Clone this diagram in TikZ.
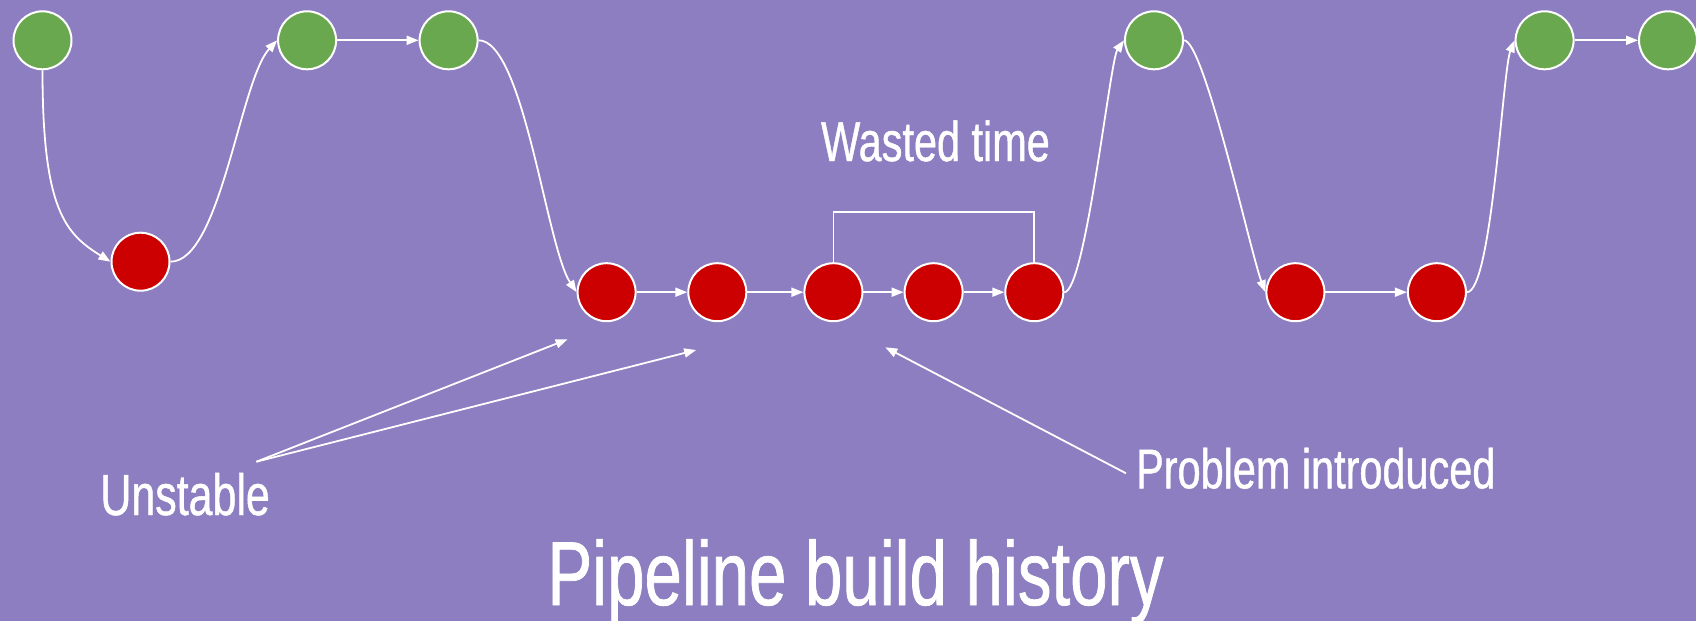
\documentclass[tikz,border=0pt]{standalone}
\usepackage{fontspec}
\usetikzlibrary{arrows.meta}
\newfontfamily\oswf[FakeStretch=0.74,FakeBold=0.8]{Liberation Sans}
\definecolor{bgc}{RGB}{140,126,192}
\definecolor{okc}{RGB}{106,168,79}
\definecolor{failc}{RGB}{204,0,0}
\tikzset{
  build/.style={circle,draw=white,line width=1pt,minimum size=29pt,inner sep=0pt},
  okb/.style={build,fill=okc},
  failb/.style={build,fill=failc},
  link/.style={draw=white,line width=0.9pt,-{Triangle[length=6pt,width=4.5pt]}},
  plainlink/.style={draw=white,line width=0.9pt},
  lbl/.style={text=white,inner sep=0pt,anchor=base west,font=\oswf\fontsize{28pt}{30pt}\selectfont},
}
\begin{document}
\begin{tikzpicture}[x=0.5pt,y=-0.5pt]
\fill[bgc] (0,0) rectangle (1696,621);
\useasboundingbox (0,0) rectangle (1696,621);
% builds
\node[okb] (g1) at (42.5,40.3) {};
\node[failb] (r1) at (140.5,261.7) {};
\node[okb] (g2) at (307.1,40.3) {};
\node[okb] (g3) at (448.6,40.3) {};
\node[failb] (r2) at (606.6,292.2) {};
\node[failb] (r3) at (717.3,292.2) {};
\node[failb] (r4) at (833.4,292.2) {};
\node[failb] (r5) at (933.6,292.2) {};
\node[failb] (r6) at (1034.3,292.2) {};
\node[okb] (g4) at (1154,40.3) {};
\node[failb] (r7) at (1295.4,292.2) {};
\node[failb] (r8) at (1436.9,292.2) {};
\node[okb] (g5) at (1544.6,40.3) {};
\node[okb] (g6) at (1668,40.3) {};
% connectors
\draw[link] (g1.south) .. controls +(0,140) and +(-45,-28) .. (r1.west);
\draw[link] (r1.east) .. controls +(50,0) and +(-37,40) .. (g2.west);
\draw[link] (g2) -- (g3);
\draw[link] (g3.east) .. controls +(45,0) and +(-30,-45) .. (r2.west);
\draw[link] (r2) -- (r3);
\draw[link] (r3) -- (r4);
\draw[link] (r4) -- (r5);
\draw[link] (r5) -- (r6);
\draw[link] (r6.east) .. controls +(21,0) and +(-14,20) .. (g4.west);
\draw[link] (g4.east) .. controls +(20,0) and +(-15,-40) .. (r7.west);
\draw[link] (r7) -- (r8);
\draw[link] (r8.east) .. controls +(25,0) and +(-12,30) .. (g5.west);
\draw[link] (g5) -- (g6);
% wasted time bracket
\coordinate (wt) at (934,211.7);
\draw[plainlink] (r4.north) |- (wt) -| (r6.north);
\node[lbl] (wtl) at (820.7,161) {Wasted time};
% unstable
\node[lbl,font=\oswf\fontsize{29pt}{31pt}\selectfont] (ul) at (100,515) {Unstable};
\coordinate (u0) at (256.4,461.7);
\coordinate (u1) at (567.6,339.3);
\coordinate (u2) at (696.2,350);
\draw[link] (u0) -- (u1);
\draw[link] (u0) -- (u2);
% problem introduced
\node[lbl] (pl) at (1135.7,488.3) {Problem introduced};
\coordinate (p0) at (1126,473.3);
\coordinate (p1) at (885.3,347.3);
\draw[link] (p0) -- (p1);
% title
\node[lbl,font=\oswf\fontsize{45.4pt}{48pt}\selectfont] (title) at (547,605) {Pipeline build history};
\end{tikzpicture}
\end{document}
